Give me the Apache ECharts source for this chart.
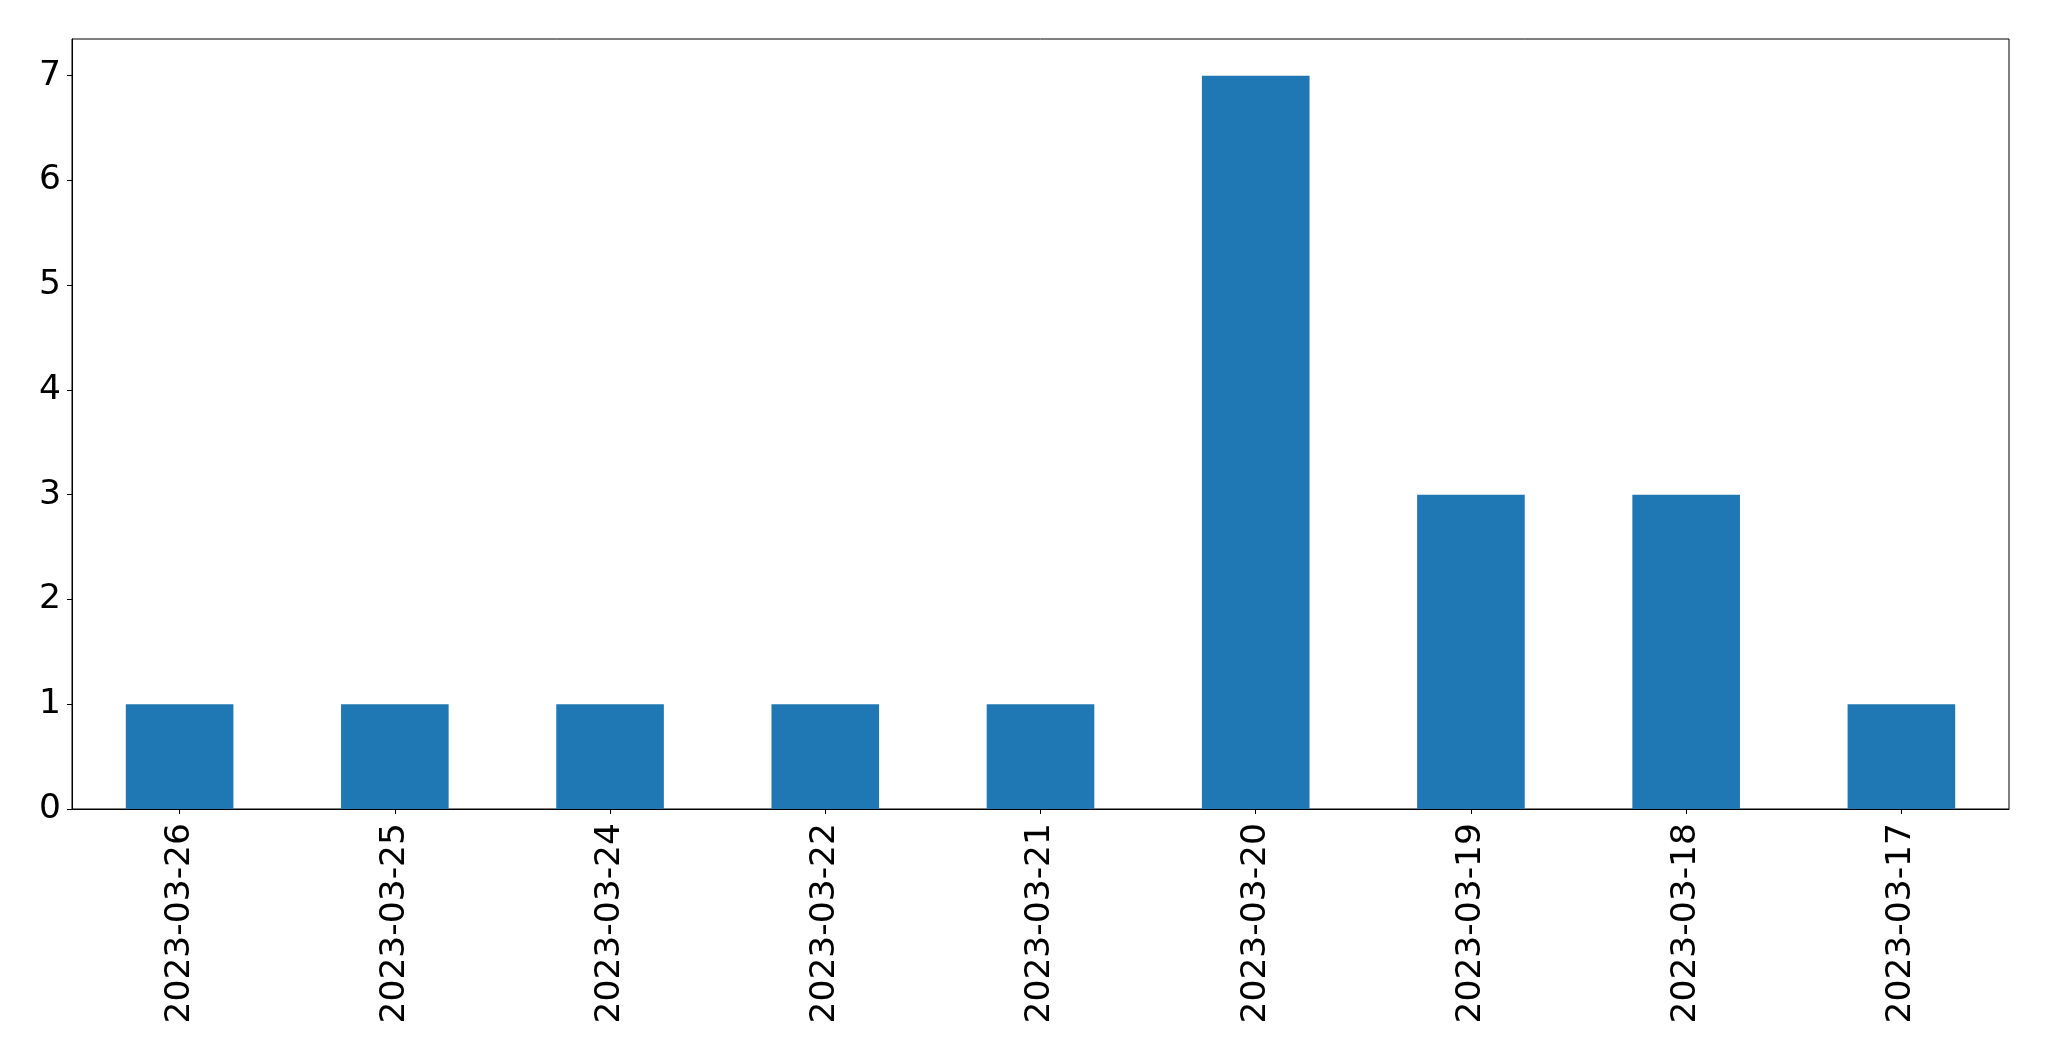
<!DOCTYPE html>
<html>
<head>
<meta charset="utf-8">
<script src="https://cdn.jsdelivr.net/npm/echarts@6/dist/echarts.min.js"></script>
<style>
html,body{margin:0;padding:0;background:#fff;}
#chart{width:2049px;height:1061px;}
</style>
</head>
<body>
<div id="chart"></div>
<script>
const categories = ['2023-03-26','2023-03-25','2023-03-24','2023-03-22','2023-03-21','2023-03-20','2023-03-19','2023-03-18','2023-03-17'];
const counts = [1, 1, 1, 1, 1, 7, 3, 3, 1];
const yTicks = [0, 1, 2, 3, 4, 5, 6, 7];

const chart = echarts.init(document.getElementById('chart'));
chart.setOption({
  animation: false,
  backgroundColor: '#ffffff',
  grid: {
    left: 72, top: 39, width: 1937, height: 770,
    show: true, borderColor: '#000', borderWidth: 1, backgroundColor: 'transparent'
  },
  xAxis: {
    type: 'category',
    data: categories,
    boundaryGap: true,
    axisLine: { show: true, lineStyle: { color: '#000', width: 1 } },
    axisTick: { show: true, alignWithLabel: true, length: 5, lineStyle: { color: '#000', width: 1 } },
    axisLabel: {
      rotate: 90, margin: 14, color: '#000',
      fontFamily: 'DejaVu Sans', fontSize: 34.5, interval: 0
    },
    splitLine: { show: false }
  },
  yAxis: {
    type: 'value',
    min: 0, max: 7.35, interval: 1,
    axisLine: { show: true, lineStyle: { color: '#000', width: 1 } },
    axisTick: { show: true, length: 5, lineStyle: { color: '#000', width: 1 }, customValues: yTicks },
    axisLabel: {
      margin: 11, color: '#000', fontFamily: 'DejaVu Sans', fontSize: 34.5,
      padding: [7, 0, 0, 0],
      customValues: yTicks
    },
    splitLine: { show: false }
  },
  series: [{
    type: 'bar',
    data: counts,
    barWidth: '50%',
    itemStyle: { color: '#1f77b4' }
  }]
});
</script>
</body>
</html>
